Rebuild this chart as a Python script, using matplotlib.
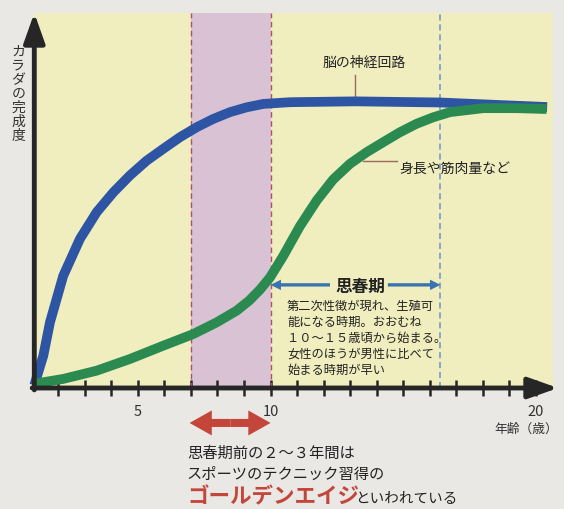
import matplotlib.pyplot as plt
from matplotlib.patches import FancyArrowPatch

plt.rcParams['font.family'] = ['Noto Sans CJK JP', 'DejaVu Sans']

# --- data (age in years, completeness in %) ---
brain_age = [1.1, 1.44, 1.69, 2.19, 2.82, 3.45, 4.08, 4.70, 5.33, 5.96, 6.59,
             7.22, 7.84, 8.47, 9.10, 9.73, 10.73, 13.18, 16.39, 18.64, 20.42]
brain = [1.0, 11.4, 23.1, 39.5, 52.5, 61.9, 68.9, 74.8, 80.0, 84.2, 88.3,
         91.8, 94.7, 97.1, 98.8, 100.0, 100.6, 100.9, 100.5, 99.6, 98.9]

body_age = [1.1, 2.19, 3.45, 4.70, 5.96, 7.09, 7.97, 8.72, 9.20, 9.60, 9.98,
            10.48, 11.11, 11.74, 12.36, 12.99, 13.62, 14.24, 14.87, 15.50,
            16.13, 16.76, 18.01, 19.27, 20.40]
body = [1.5, 3.2, 6.1, 10.2, 14.9, 19.0, 23.1, 27.2, 30.8, 34.6, 38.9,
        46.5, 57.0, 66.0, 73.4, 78.9, 83.0, 86.5, 90.0, 93.0,
        95.3, 97.1, 98.5, 98.5, 98.2]

golden = (7, 10)          # pink band
puberty_end = 16.4        # blue dashed line
major_ticks = [5, 10, 20]
major_labels = ['5', '10', '20']
minor_ticks = [2, 3, 4, 6, 7, 8, 9, 11, 12, 13, 14, 15, 16, 17, 18, 19]

ylabel = "カラダの完成度"
xlabel = "年齢（歳）"
brain_label = "脳の神経回路"
body_label = "身長や筋肉量など"
puberty_title = "思春期"
puberty_note = ["第二次性徴が現れ、生殖可", "能になる時期。おおむね",
                "１０～１５歳頃から始まる。", "女性のほうが男性に比べて",
                "始まる時期が早い"]
caption = ["思春期前の２～３年間は", "スポーツのテクニック習得の"]
golden_word = "ゴールデンエイジ"
golden_tail = "といわれている"

PAGE = '#e9e8e5'
PANEL = '#f0edbf'
PINK = '#d9c2d3'
INK = '#262626'
BLUE = '#2d55a3'
GREEN = '#2a8a50'
RED = '#c4463b'
ARROW_BLUE = '#3a74b0'

fig = plt.figure(figsize=(5.64, 5.10), dpi=100, facecolor=PAGE)
ax = fig.add_axes([34.3 / 564, 121 / 510, 523.7 / 564, 375 / 510])
ax.set_xlim(1.1, 20.83)
ax.set_ylim(0, 132)
ax.set_facecolor(PAGE)
for s in ax.spines.values():
    s.set_visible(False)

# background panel, golden-age band, dashed guides
ax.axvspan(1.1, 20.65, color=PANEL, lw=0, zorder=0)
ax.axvspan(golden[0], golden[1], color=PINK, lw=0, zorder=1)
for x in golden:
    ax.axvline(x, color='#b0506a', lw=1.0, ls=(0, (4, 2.5)), zorder=2)
ax.axvline(puberty_end, color='#6a95c4', lw=1.1, ls=(0, (4, 2.5)), zorder=2)

# curves
ax.plot(brain_age, brain, color=BLUE, lw=7, solid_capstyle='butt',
        solid_joinstyle='round', zorder=4, clip_on=False)
ax.plot(body_age, body, color=GREEN, lw=7, solid_capstyle='butt',
        solid_joinstyle='round', zorder=5, clip_on=False)

# axes with arrow heads
arrow_kw = dict(arrowstyle='-|>,head_length=0.9,head_width=0.32', lw=3.5,
                color=INK, mutation_scale=20, shrinkA=0, shrinkB=0)
ax.annotate('', xy=(1, 0), xytext=(-0.004, 0), xycoords='axes fraction',
            arrowprops=arrow_kw, zorder=7)
ax.annotate('', xy=(0, 1), xytext=(0, -0.005), xycoords='axes fraction',
            arrowprops=arrow_kw, zorder=7)

ax.set_xticks(major_ticks)
ax.set_xticklabels(major_labels)
ax.set_xticks(minor_ticks, minor=True)
ax.tick_params(axis='x', which='both', direction='inout', length=11, width=1.8,
               color=INK, labelsize=10.5, labelcolor='#333333', pad=6)
ax.set_yticks([])
ax.text(20.82, -14.3, xlabel, fontsize=9.2, color='#333333', ha='right', va='center')

# vertical y label
for i, ch in enumerate(ylabel):
    ax.text(0.5, 118.7 - i * 4.93, ch, fontsize=10, color='#333333',
            ha='center', va='center', clip_on=False)

# curve labels
ax.text(11.97, 114.7, brain_label, fontsize=10, color='#222222', ha='left', va='center')
ax.plot([13.18, 13.18], [110.2, 102.5], color='#9a6a5e', lw=1, zorder=3)
ax.text(14.87, 77.5, body_label, fontsize=10, color='#222222', ha='left', va='center')
ax.plot([13.48, 14.75], [80.0, 80.0], color='#9a6a5e', lw=1, zorder=3)

# puberty arrow and note
ax.text(13.37, 35.8, puberty_title, fontsize=12, fontweight='bold', color='#222222',
        ha='center', va='center')
for a, b in [(12.24, golden[1]), (14.42, puberty_end)]:
    ax.add_patch(FancyArrowPatch((a, 36.3), (b, 36.3), mutation_scale=10, lw=0,
                                 shrinkA=0, shrinkB=0,
                                 arrowstyle='simple,head_length=0.75,head_width=0.75,tail_width=0.24',
                                 color=ARROW_BLUE, zorder=6))
for i, line in enumerate(puberty_note):
    ax.text(10.62, 29.2 - i * 5.63, line, fontsize=8.8, color='#222222',
            ha='left', va='center')

# golden-age arrow below the axis
mid = (golden[0] + golden[1]) / 2
for b in [golden[0] - 0.05, golden[1]]:
    ax.add_patch(FancyArrowPatch((mid, -12.3), (b, -12.3), mutation_scale=10, lw=0,
                                 shrinkA=0, shrinkB=0,
                                 arrowstyle='simple,head_length=1.6,head_width=1.8,tail_width=0.58',
                                 color=RED, zorder=6, clip_on=False))

for i, line in enumerate(caption):
    ax.text(6.85, -22.5 - i * 7.4, line, fontsize=11, color='#222222',
            ha='left', va='center')
ax.text(6.85, -40.1, golden_word, fontsize=15.5, fontweight='bold', color=RED,
        ha='left', va='baseline')
ax.text(13.18, -40.1, golden_tail, fontsize=10.5, color='#222222',
        ha='left', va='baseline')

fig.savefig('out.png', dpi=100, facecolor=PAGE)
